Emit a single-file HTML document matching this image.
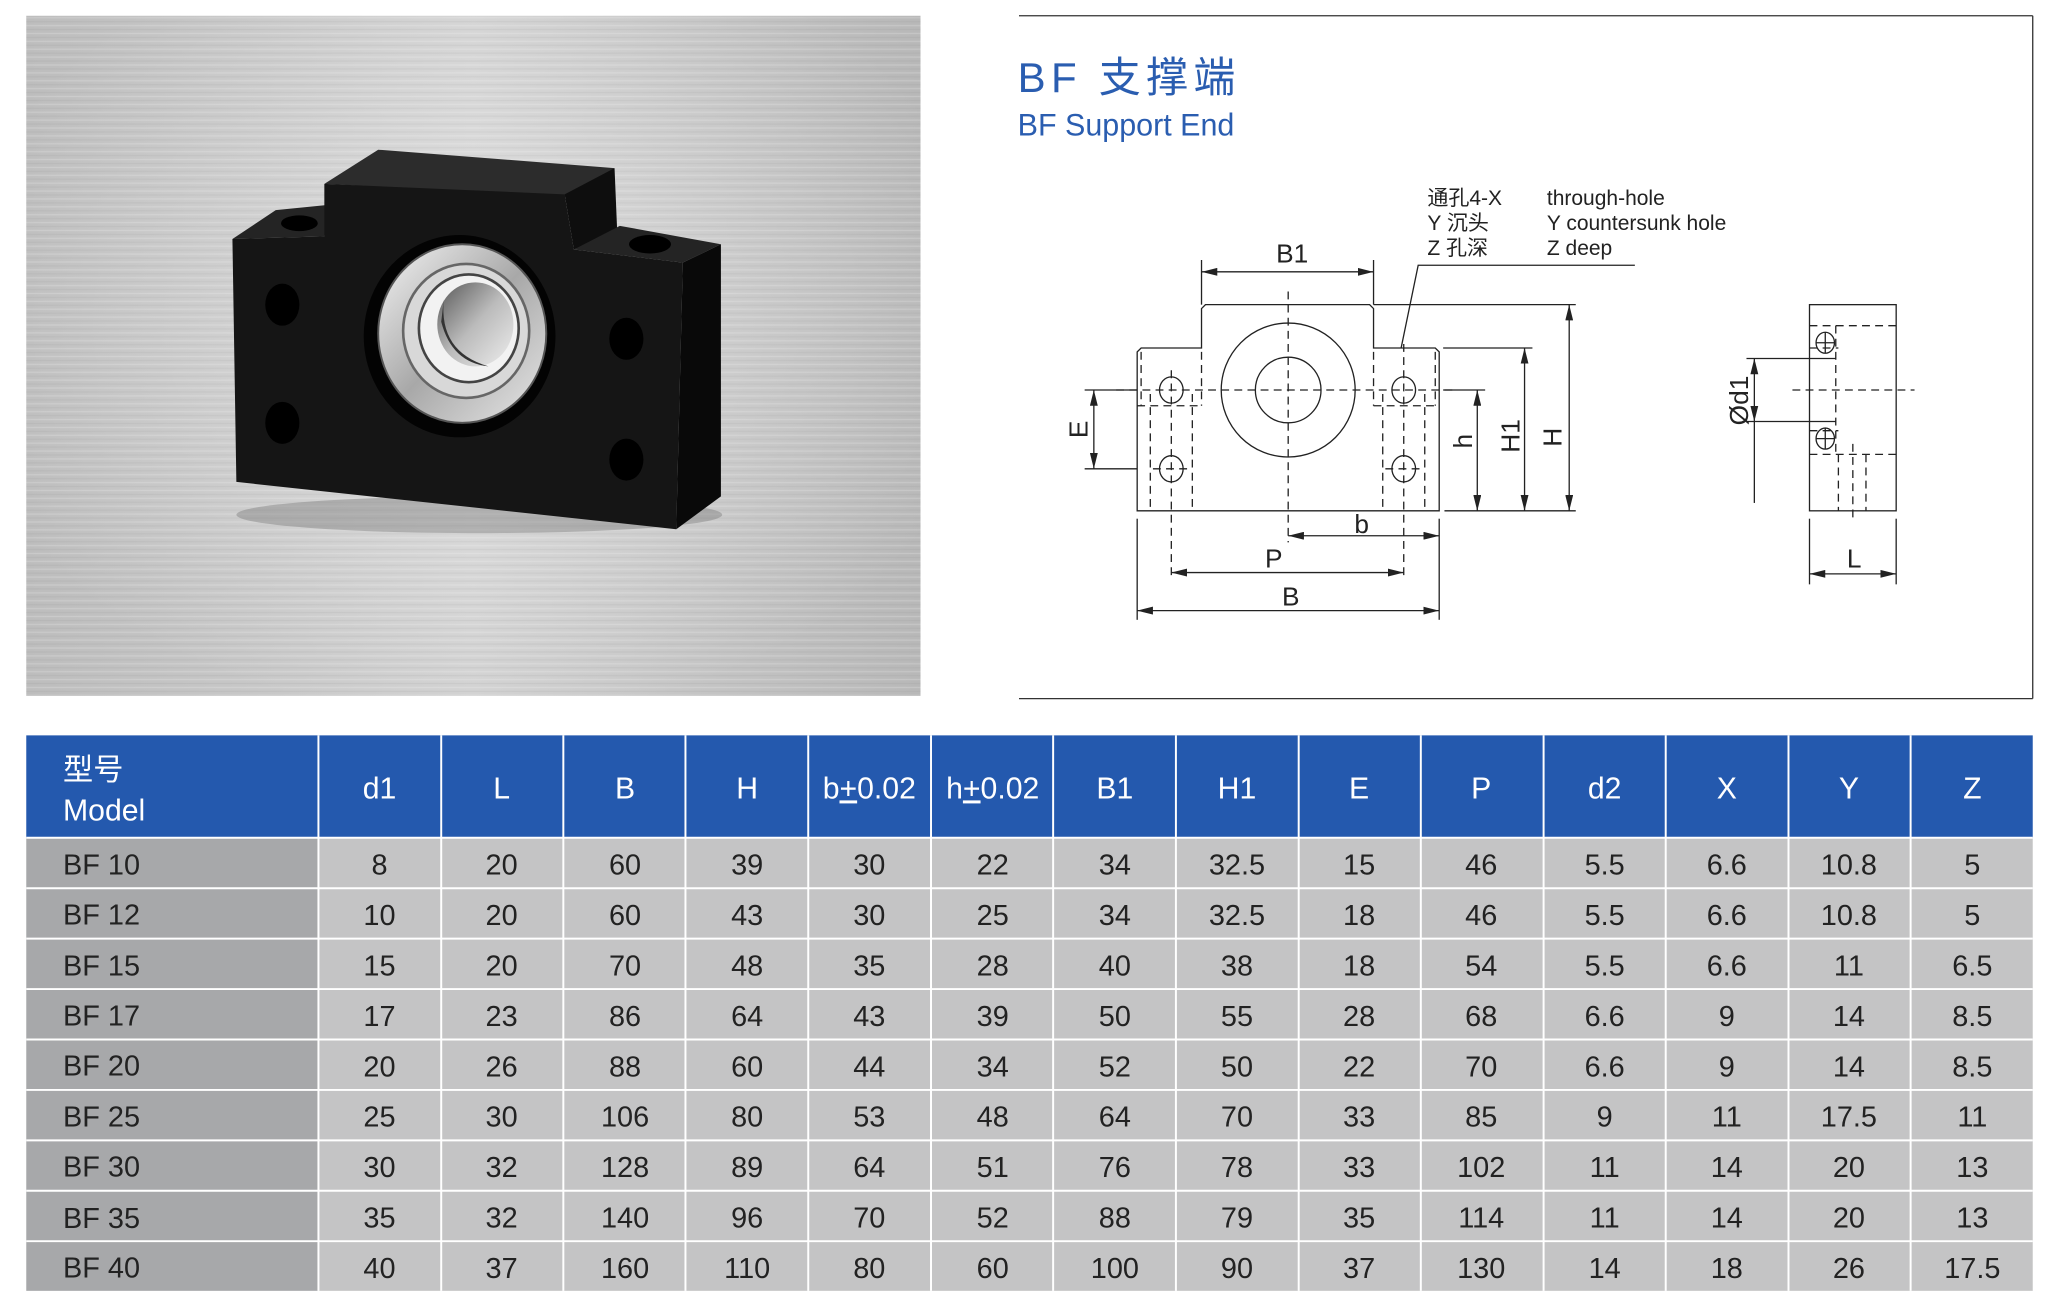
<!DOCTYPE html>
<html><head><meta charset="utf-8"><style>
html,body{margin:0;padding:0;background:#fff;}
svg{display:block;}
text{font-family:"Liberation Sans","Noto Sans CJK SC",sans-serif;}
</style></head><body>
<svg width="2059" height="1315" viewBox="0 0 1568 1001.4" preserveAspectRatio="none" xmlns="http://www.w3.org/2000/svg">
<defs>
<linearGradient id="bg" x1="0" y1="0" x2="1" y2="0">
<stop offset="0" stop-color="#bdbdbd"/><stop offset="0.5" stop-color="#d2d2d2"/><stop offset="1" stop-color="#b8b8b8"/>
</linearGradient>
<pattern id="brush" width="681" height="6" patternUnits="userSpaceOnUse">
<rect width="681" height="1" y="1" fill="#fff" opacity="0.18"/><rect width="681" height="1" y="4" fill="#888" opacity="0.12"/>
</pattern>
<radialGradient id="hi" cx="0.5" cy="0.45" r="0.6"><stop offset="0" stop-color="#fff" stop-opacity="0.3"/><stop offset="1" stop-color="#fff" stop-opacity="0"/></radialGradient>
<linearGradient id="ring" x1="0" y1="0" x2="1" y2="1"><stop offset="0" stop-color="#f4f4f4"/><stop offset="0.5" stop-color="#a8a8a8"/><stop offset="1" stop-color="#e8e8e8"/></linearGradient>
<linearGradient id="bore" x1="0" y1="0" x2="1" y2="1"><stop offset="0" stop-color="#555"/><stop offset="0.5" stop-color="#bbb"/><stop offset="1" stop-color="#eee"/></linearGradient>
<marker id="ar" viewBox="0 0 12 6" refX="12" refY="3" markerWidth="12" markerHeight="6" orient="auto-start-reverse" markerUnits="userSpaceOnUse"><path d="M0,0 L12,3 L0,6 z" fill="#222"/></marker>
</defs>
<!-- photo -->
<rect x="20" y="12" width="681" height="518" fill="url(#bg)"/>
<rect x="20" y="12" width="681" height="518" fill="url(#brush)"/>
<rect x="20" y="12" width="681" height="518" fill="url(#hi)"/>
<ellipse cx="365" cy="392" rx="185" ry="14" fill="#666" opacity="0.35"/>
<polygon points="247,140 288,114 468,128 437,150" fill="#2c2c2c"/>
<polygon points="430,148 468,128 470,176 437,190" fill="#0e0e0e"/>
<polygon points="437,190 472,172 549,186 520,200" fill="#242424"/>
<polygon points="177,182 210,160 250,156 247,180" fill="#242424"/>
<polygon points="520,200 549,186 549,378 515,403" fill="#090909"/>
<polygon points="177,182 247,180 247,140 430,148 437,190 520,200 515,403 180,367" fill="#151515"/>
<ellipse cx="228" cy="170" rx="14" ry="6" fill="#000"/>
<ellipse cx="495" cy="186" rx="16" ry="7" fill="#000"/>
<ellipse cx="350" cy="256" rx="73" ry="77" fill="#030303"/>
<ellipse cx="352" cy="254" rx="64" ry="68" fill="url(#ring)" stroke="#555" stroke-width="1.5"/>
<ellipse cx="355" cy="252" rx="48" ry="51" fill="#d8d8d8" stroke="#666" stroke-width="2"/>
<ellipse cx="357" cy="250" rx="38" ry="41" fill="#f2f2f2" stroke="#444" stroke-width="2"/>
<ellipse cx="362" cy="247" rx="29" ry="32" fill="url(#bore)"/>
<path d="M338,228 Q334,268 372,279 Q344,276 336,245 z" fill="#333"/>
<ellipse cx="215" cy="232" rx="13" ry="16" fill="#000"/>
<ellipse cx="215" cy="322" rx="13" ry="16" fill="#000"/>
<ellipse cx="477" cy="258" rx="13" ry="16" fill="#000"/>
<ellipse cx="477" cy="350" rx="13" ry="16" fill="#000"/>

<!-- diagram frame -->
<g stroke="#333" stroke-width="1" fill="none">
<line x1="776" y1="12" x2="1548" y2="12"/><line x1="1548" y1="12" x2="1548" y2="532"/><line x1="776" y1="532" x2="1548" y2="532"/>
</g>
<text x="775" y="70" font-size="32" fill="#2a5db0" letter-spacing="4">BF 支撑端</text>
<text x="775" y="103" font-size="24" fill="#2a5db0" textLength="165" lengthAdjust="spacingAndGlyphs">BF Support End</text>
<g font-size="16" fill="#222">
<text x="1087" y="156">通孔4-X</text><text x="1087" y="175">Y 沉头</text><text x="1087" y="194">Z 孔深</text>
<text x="1178" y="156">through-hole</text><text x="1178" y="175">Y countersunk hole</text><text x="1178" y="194">Z deep</text>
</g>
<g stroke="#222" stroke-width="1" fill="none">
<polyline points="1067,265 1080,202 1245,202"/>
<path d="M866,389 L866,268 L869,265 L915,265 L915,235 L918,232 L1043,232 L1046,235 L1046,265 L1093,265 L1096,268 L1096,389 Z"/>
<circle cx="981" cy="297" r="51"/><circle cx="981" cy="297" r="25"/>
<ellipse cx="892" cy="297" rx="9" ry="10"/><ellipse cx="892" cy="357" rx="9" ry="10"/>
<ellipse cx="1069" cy="297" rx="9" ry="10"/><ellipse cx="1069" cy="357" rx="9" ry="10"/>
<g stroke-dasharray="6,4">
<line x1="981" y1="222" x2="981" y2="413"/>
<line x1="850" y1="297" x2="1110" y2="297"/>
<line x1="876" y1="300" x2="876" y2="389"/><line x1="908" y1="300" x2="908" y2="389"/>
<line x1="1053" y1="300" x2="1053" y2="389"/><line x1="1085" y1="300" x2="1085" y2="389"/>
<line x1="869" y1="268" x2="869" y2="309"/><line x1="915" y1="268" x2="915" y2="309"/>
<line x1="1046" y1="268" x2="1046" y2="309"/><line x1="1093" y1="268" x2="1093" y2="309"/>
<line x1="866" y1="309" x2="915" y2="309"/><line x1="1046" y1="309" x2="1096" y2="309"/>
<line x1="892" y1="282" x2="892" y2="442"/><line x1="1069" y1="262" x2="1069" y2="442"/>
<line x1="878" y1="357" x2="906" y2="357"/><line x1="1055" y1="357" x2="1083" y2="357"/>
</g>
<line x1="915" y1="198" x2="915" y2="232"/><line x1="1046" y1="198" x2="1046" y2="232"/>
<line x1="915" y1="207" x2="1046" y2="207" marker-start="url(#ar)" marker-end="url(#ar)"/>
<line x1="1046" y1="232" x2="1200" y2="232"/><line x1="1100" y1="389" x2="1200" y2="389"/>
<line x1="1195" y1="232" x2="1195" y2="389" marker-start="url(#ar)" marker-end="url(#ar)"/>
<line x1="1099" y1="265" x2="1167" y2="265"/>
<line x1="1161" y1="265" x2="1161" y2="389" marker-start="url(#ar)" marker-end="url(#ar)"/>
<line x1="1099" y1="297" x2="1131" y2="297"/>
<line x1="1125" y1="297" x2="1125" y2="389" marker-start="url(#ar)" marker-end="url(#ar)"/>
<line x1="826" y1="297" x2="866" y2="297"/><line x1="826" y1="357" x2="866" y2="357"/>
<line x1="833" y1="297" x2="833" y2="357" marker-start="url(#ar)" marker-end="url(#ar)"/>
<line x1="866" y1="395" x2="866" y2="472"/><line x1="1096" y1="395" x2="1096" y2="472"/>
<line x1="981" y1="408" x2="1096" y2="408" marker-start="url(#ar)" marker-end="url(#ar)"/>
<line x1="892" y1="436" x2="1069" y2="436" marker-start="url(#ar)" marker-end="url(#ar)"/>
<line x1="866" y1="465" x2="1096" y2="465" marker-start="url(#ar)" marker-end="url(#ar)"/>
<rect x="1378" y="232" width="66" height="157"/>
<ellipse cx="1390" cy="261" rx="7" ry="8"/><ellipse cx="1390" cy="334" rx="7" ry="8"/>
<line x1="1383" y1="261" x2="1397" y2="261"/><line x1="1390" y1="253" x2="1390" y2="269"/>
<line x1="1383" y1="334" x2="1397" y2="334"/><line x1="1390" y1="326" x2="1390" y2="342"/>
<g stroke-dasharray="6,4">
<line x1="1378" y1="248" x2="1444" y2="248"/><line x1="1378" y1="346" x2="1444" y2="346"/>
<line x1="1365" y1="297" x2="1458" y2="297"/>
<line x1="1398" y1="248" x2="1398" y2="346"/>
<line x1="1400" y1="346" x2="1400" y2="389"/><line x1="1421" y1="346" x2="1421" y2="389"/>
<line x1="1411" y1="338" x2="1411" y2="395"/>
<line x1="1378" y1="265" x2="1400" y2="265"/><line x1="1378" y1="328" x2="1400" y2="328"/>
</g>
<line x1="1330" y1="273" x2="1398" y2="273"/><line x1="1330" y1="321" x2="1398" y2="321"/>
<line x1="1336" y1="273" x2="1336" y2="321" marker-start="url(#ar)" marker-end="url(#ar)"/>
<line x1="1336" y1="321" x2="1336" y2="383"/>
<line x1="1378" y1="395" x2="1378" y2="445"/><line x1="1444" y1="395" x2="1444" y2="445"/>
<line x1="1378" y1="437" x2="1444" y2="437" marker-start="url(#ar)" marker-end="url(#ar)"/>
</g>
<g font-size="20" fill="#222" text-anchor="middle">
<text x="984" y="200">B1</text><text x="1037" y="406">b</text><text x="970" y="432">P</text><text x="983" y="461">B</text>
<text x="1412" y="432">L</text>
<text transform="translate(828,327) rotate(-90)">E</text>
<text transform="translate(1121,336) rotate(-90)">h</text>
<text transform="translate(1157,332) rotate(-90)">H1</text>
<text transform="translate(1189,333) rotate(-90)">H</text>
<text transform="translate(1331,305) rotate(-90)">Ød1</text>
</g>

<!-- table -->
<rect x="20" y="560" width="1528" height="78" fill="#2459ae"/>
<rect x="20" y="638" width="222" height="345" fill="#a7a8aa"/>
<rect x="242" y="638" width="1306" height="345" fill="#c4c4c5"/>
<g stroke="#fff" stroke-width="1.5">
<line x1="242.5" y1="560" x2="242.5" y2="983"/>
<line x1="336" y1="560" x2="336" y2="983"/><line x1="429" y1="560" x2="429" y2="983"/><line x1="522" y1="560" x2="522" y2="983"/>
<line x1="615.5" y1="560" x2="615.5" y2="983"/><line x1="709" y1="560" x2="709" y2="983"/><line x1="802" y1="560" x2="802" y2="983"/>
<line x1="895.5" y1="560" x2="895.5" y2="983"/><line x1="989" y1="560" x2="989" y2="983"/><line x1="1082" y1="560" x2="1082" y2="983"/>
<line x1="1175.5" y1="560" x2="1175.5" y2="983"/><line x1="1268.5" y1="560" x2="1268.5" y2="983"/><line x1="1362" y1="560" x2="1362" y2="983"/>
<line x1="1455" y1="560" x2="1455" y2="983"/>
<line x1="20" y1="638" x2="1548" y2="638"/>
<line x1="20" y1="676.4" x2="1548" y2="676.4"/><line x1="20" y1="714.8" x2="1548" y2="714.8"/><line x1="20" y1="753.2" x2="1548" y2="753.2"/>
<line x1="20" y1="791.6" x2="1548" y2="791.6"/><line x1="20" y1="830" x2="1548" y2="830"/><line x1="20" y1="868.4" x2="1548" y2="868.4"/>
<line x1="20" y1="906.8" x2="1548" y2="906.8"/><line x1="20" y1="945.2" x2="1548" y2="945.2"/>
</g>
<g fill="#fff" font-size="23">
<text x="48" y="594">型号</text><text x="48" y="625">Model</text>
<g text-anchor="middle">
<text x="289" y="608">d1</text><text x="382" y="608">L</text><text x="476" y="608">B</text><text x="569" y="608">H</text>
<text x="662" y="608">b<tspan text-decoration="underline">+</tspan>0.02</text><text x="756" y="608">h<tspan text-decoration="underline">+</tspan>0.02</text>
<text x="849" y="608">B1</text><text x="942" y="608">H1</text><text x="1035" y="608">E</text><text x="1128" y="608">P</text>
<text x="1222" y="608">d2</text><text x="1315" y="608">X</text><text x="1408" y="608">Y</text><text x="1502" y="608">Z</text>
</g></g>
<g fill="#222" font-size="22">
<g>
<text x="48" y="666">BF 10</text><text x="48" y="704">BF 12</text><text x="48" y="743">BF 15</text>
<text x="48" y="781">BF 17</text><text x="48" y="819">BF 20</text><text x="48" y="858">BF 25</text>
<text x="48" y="896">BF 30</text><text x="48" y="935">BF 35</text><text x="48" y="973">BF 40</text>
</g>
<g text-anchor="middle">
<g transform="translate(0,666)"><text x="289">8</text><text x="382">20</text><text x="476">60</text><text x="569">39</text><text x="662">30</text><text x="756">22</text><text x="849">34</text><text x="942">32.5</text><text x="1035">15</text><text x="1128">46</text><text x="1222">5.5</text><text x="1315">6.6</text><text x="1408">10.8</text><text x="1502">5</text></g>
<g transform="translate(0,704.4)"><text x="289">10</text><text x="382">20</text><text x="476">60</text><text x="569">43</text><text x="662">30</text><text x="756">25</text><text x="849">34</text><text x="942">32.5</text><text x="1035">18</text><text x="1128">46</text><text x="1222">5.5</text><text x="1315">6.6</text><text x="1408">10.8</text><text x="1502">5</text></g>
<g transform="translate(0,742.8)"><text x="289">15</text><text x="382">20</text><text x="476">70</text><text x="569">48</text><text x="662">35</text><text x="756">28</text><text x="849">40</text><text x="942">38</text><text x="1035">18</text><text x="1128">54</text><text x="1222">5.5</text><text x="1315">6.6</text><text x="1408">11</text><text x="1502">6.5</text></g>
<g transform="translate(0,781.2)"><text x="289">17</text><text x="382">23</text><text x="476">86</text><text x="569">64</text><text x="662">43</text><text x="756">39</text><text x="849">50</text><text x="942">55</text><text x="1035">28</text><text x="1128">68</text><text x="1222">6.6</text><text x="1315">9</text><text x="1408">14</text><text x="1502">8.5</text></g>
<g transform="translate(0,819.6)"><text x="289">20</text><text x="382">26</text><text x="476">88</text><text x="569">60</text><text x="662">44</text><text x="756">34</text><text x="849">52</text><text x="942">50</text><text x="1035">22</text><text x="1128">70</text><text x="1222">6.6</text><text x="1315">9</text><text x="1408">14</text><text x="1502">8.5</text></g>
<g transform="translate(0,858)"><text x="289">25</text><text x="382">30</text><text x="476">106</text><text x="569">80</text><text x="662">53</text><text x="756">48</text><text x="849">64</text><text x="942">70</text><text x="1035">33</text><text x="1128">85</text><text x="1222">9</text><text x="1315">11</text><text x="1408">17.5</text><text x="1502">11</text></g>
<g transform="translate(0,896.4)"><text x="289">30</text><text x="382">32</text><text x="476">128</text><text x="569">89</text><text x="662">64</text><text x="756">51</text><text x="849">76</text><text x="942">78</text><text x="1035">33</text><text x="1128">102</text><text x="1222">11</text><text x="1315">14</text><text x="1408">20</text><text x="1502">13</text></g>
<g transform="translate(0,934.8)"><text x="289">35</text><text x="382">32</text><text x="476">140</text><text x="569">96</text><text x="662">70</text><text x="756">52</text><text x="849">88</text><text x="942">79</text><text x="1035">35</text><text x="1128">114</text><text x="1222">11</text><text x="1315">14</text><text x="1408">20</text><text x="1502">13</text></g>
<g transform="translate(0,973.2)"><text x="289">40</text><text x="382">37</text><text x="476">160</text><text x="569">110</text><text x="662">80</text><text x="756">60</text><text x="849">100</text><text x="942">90</text><text x="1035">37</text><text x="1128">130</text><text x="1222">14</text><text x="1315">18</text><text x="1408">26</text><text x="1502">17.5</text></g>
</g></g>
</svg>
</body></html>
